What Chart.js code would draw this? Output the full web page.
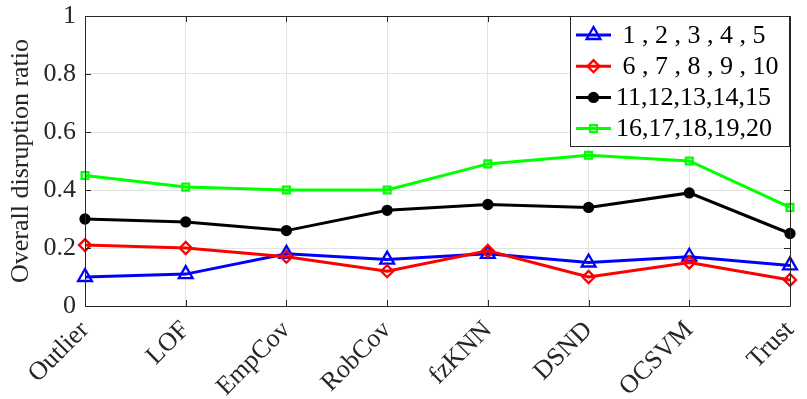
<!DOCTYPE html>
<html>
<head>
<meta charset="utf-8">
<script src="https://cdn.jsdelivr.net/npm/chart.js@4"></script>
<style>
  html, body { margin: 0; padding: 0; background: #fff; }
  #wrap { width: 807px; height: 399px; position: relative; }
</style>
</head>
<body>
<div id="wrap"><canvas id="c" width="807" height="399"></canvas></div>
<script>
const categories = ['Outlier', 'LOF', 'EmpCov', 'RobCov', 'fzKNN', 'DSND', 'OCSVM', 'Trust'];
const seriesLabels = [' 1 , 2 , 3 , 4 , 5', ' 6 , 7 , 8 , 9 , 10', '11,12,13,14,15', '16,17,18,19,20'];
const values1to5   = [0.10, 0.11, 0.18, 0.16, 0.18, 0.15, 0.17, 0.14];
const values6to10  = [0.21, 0.20, 0.17, 0.12, 0.19, 0.10, 0.15, 0.09];
const values11to15 = [0.30, 0.29, 0.26, 0.33, 0.35, 0.34, 0.39, 0.25];
const values16to20 = [0.45, 0.41, 0.40, 0.40, 0.49, 0.52, 0.50, 0.34];
const yTicks = [0, 0.2, 0.4, 0.6, 0.8, 1];
const yTitle = 'Overall disruption ratio';

const FONT = "'Liberation Serif', 'Times New Roman', serif";

const styles = [
  { color: '#0000ff', pointStyle: 'triangle', radius: 8, fill: 'rgba(0,0,0,0)' },
  { color: '#ff0000', pointStyle: 'rectRot', radius: 6, fill: 'rgba(0,0,0,0)' },
  { color: '#000000', pointStyle: 'circle', radius: 4.5, fill: '#000000' },
  { color: '#00ff00', pointStyle: 'rect', radius: 4.8, fill: 'rgba(0,0,0,0)' }
];
const seriesData = [values1to5, values6to10, values11to15, values16to20];

const datasets = seriesData.map((d, i) => ({
  label: seriesLabels[i],
  data: d,
  borderColor: styles[i].color,
  backgroundColor: styles[i].fill,
  pointBackgroundColor: styles[i].fill,
  pointBorderColor: styles[i].color,
  pointStyle: styles[i].pointStyle,
  pointRadius: styles[i].radius,
  pointBorderWidth: 2.3,
  borderWidth: 3,
  tension: 0,
  fill: false,
  order: 4 - i
}));

const boxPlugin = {
  id: 'boxPlugin',
  afterDraw(chart) {
    const ctx = chart.ctx;
    const a = chart.chartArea;
    const xs = chart.scales.x, ys = chart.scales.y;
    ctx.save();
    ctx.strokeStyle = '#262626';
    ctx.lineWidth = 1;
    ctx.beginPath();
    ctx.rect(Math.round(a.left) + 0.5, Math.round(a.top) + 0.5, Math.round(a.right - a.left), Math.round(a.bottom - a.top));
    ctx.stroke();
    const tl = 6;
    ctx.beginPath();
    yTicks.forEach(v => {
      const y = Math.round(ys.getPixelForValue(v)) + 0.5;
      ctx.moveTo(a.left, y); ctx.lineTo(a.left + tl, y);
      ctx.moveTo(a.right, y); ctx.lineTo(a.right - tl, y);
    });
    categories.forEach((c, i) => {
      const x = Math.round(xs.getPixelForValue(i)) + 0.5;
      ctx.moveTo(x, a.bottom); ctx.lineTo(x, a.bottom - tl);
      ctx.moveTo(x, a.top); ctx.lineTo(x, a.top + tl);
    });
    ctx.stroke();

    // legend
    const lx = 570.5, ly = 16.5, lw = 219, lh = 130;
    ctx.fillStyle = '#ffffff';
    ctx.fillRect(lx, ly, lw, lh);
    ctx.strokeStyle = '#262626';
    ctx.lineWidth = 1;
    ctx.strokeRect(lx, ly, lw, lh);
    ctx.font = '26px ' + FONT;
    ctx.textBaseline = 'middle';
    ctx.textAlign = 'left';
    chart.data.datasets.forEach((ds, i) => {
      const y = 35 + i * 31.2;
      ctx.strokeStyle = ds.borderColor;
      ctx.lineWidth = 3;
      ctx.beginPath();
      ctx.moveTo(576, y); ctx.lineTo(611, y);
      ctx.stroke();
      ctx.lineWidth = 2.3;
      ctx.fillStyle = ds.pointBackgroundColor;
      ctx.strokeStyle = ds.pointBorderColor;
      Chart.helpers.drawPoint(ctx, { pointStyle: ds.pointStyle, radius: ds.pointRadius, rotation: 0, borderWidth: 2.3 }, 593.5, y);
      ctx.fillStyle = '#000';
      ctx.fillText(ds.label, 616, y + 1);
    });
    ctx.restore();
  }
};

new Chart(document.getElementById('c'), {
  type: 'line',
  data: { labels: categories, datasets },
  options: {
    responsive: false,
    animation: false,
    layout: { padding: { top: 16, right: 17, left: 0, bottom: 0 } },
    plugins: { legend: { display: false }, tooltip: { enabled: false } },
    scales: {
      x: {
        offset: false,
        grid: { color: '#e3e3e3', lineWidth: 1, drawTicks: false },
        border: { display: false },
        ticks: {
          color: '#262626',
          font: { family: FONT, size: 26 },
          maxRotation: 45, minRotation: 45,
          padding: 9,
          autoSkip: false
        },
        afterFit(scale) { scale.height = 93; scale.paddingLeft = 0; scale.paddingRight = 0; }
      },
      y: {
        min: 0, max: 1,
        grid: { color: '#e3e3e3', lineWidth: 1, drawTicks: false },
        border: { display: false },
        afterBuildTicks(scale) { scale.ticks = yTicks.map(v => ({ value: v })); },
        ticks: {
          color: '#262626',
          font: { family: FONT, size: 26 },
          padding: 9,
          callback: v => String(v)
        },
        title: {
          display: true,
          text: yTitle,
          color: '#262626',
          font: { family: FONT, size: 26 },
          padding: { top: 6, bottom: 0 }
        },
        afterFit(scale) { scale.width = 85; scale.paddingTop = 0; scale.paddingBottom = 0; }
      }
    }
  },
  plugins: [boxPlugin]
});
</script>
</body>
</html>
